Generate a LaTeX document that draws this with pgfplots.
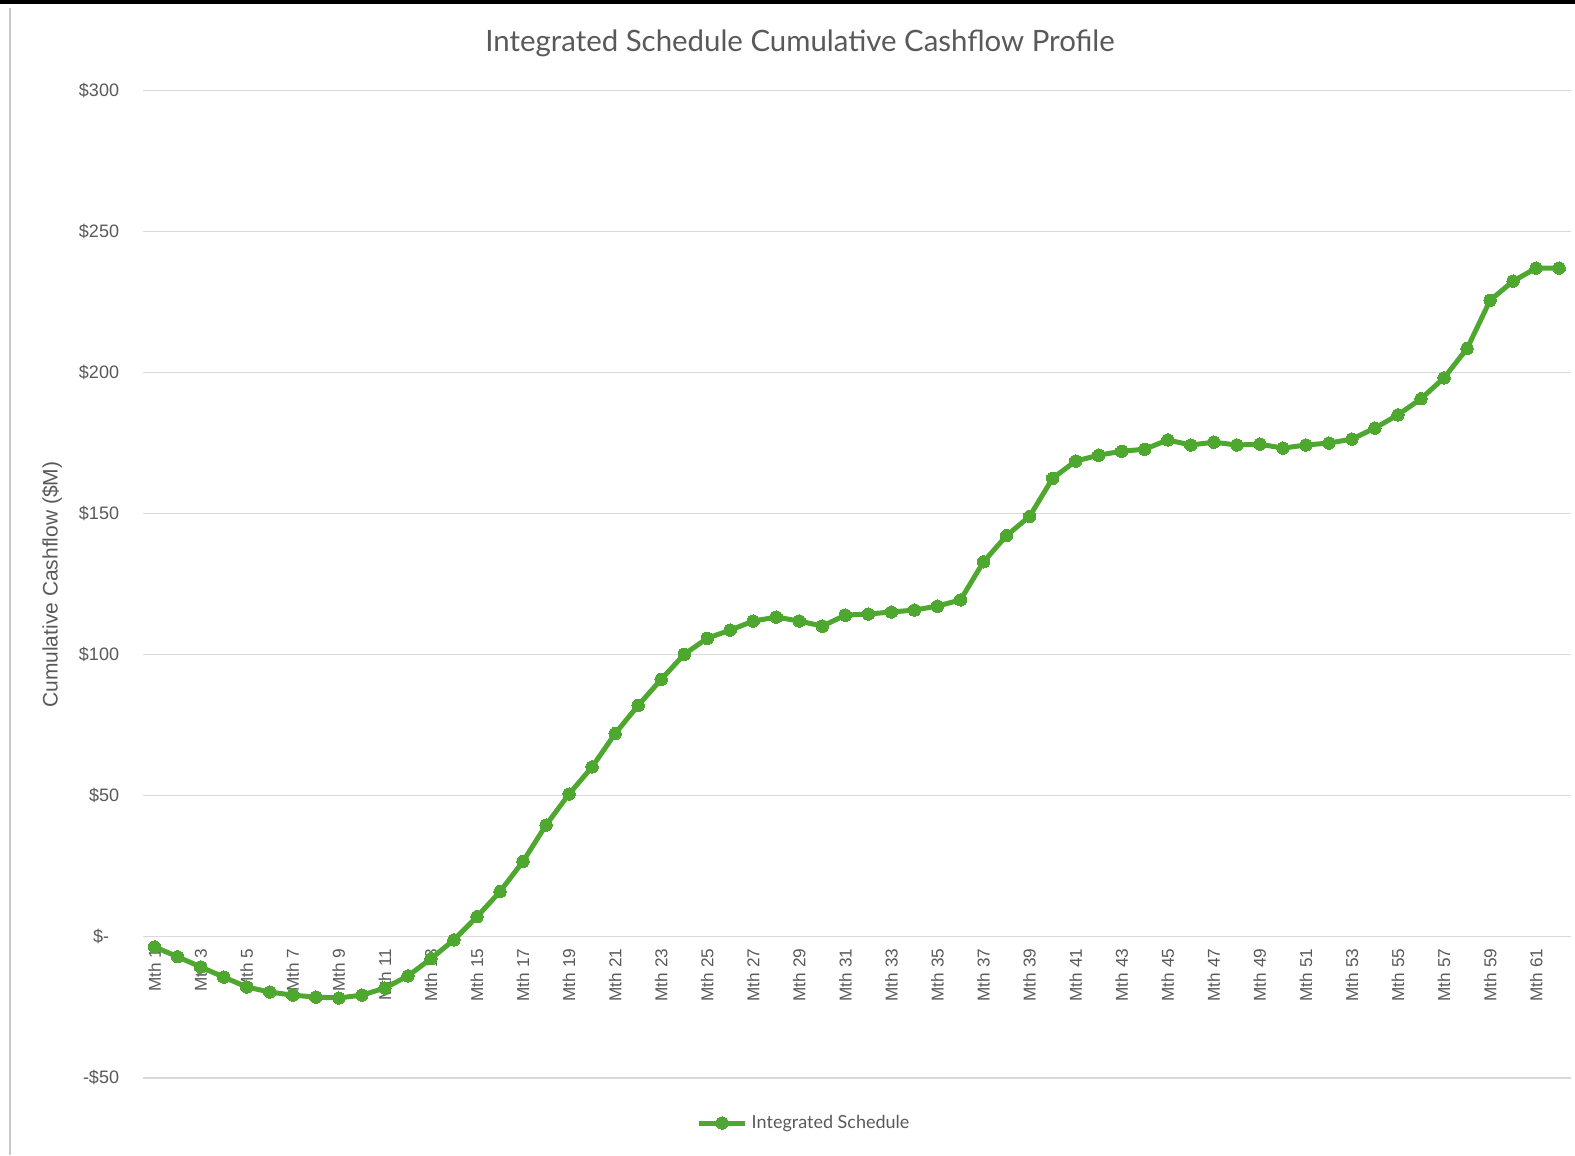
\documentclass[border=0pt]{standalone}
\usepackage{fontspec}
\setmainfont{Liberation Sans}
\newfontfamily\titlefont{Lato}
\usepackage{pgfplots}
\pgfplotsset{compat=1.18}
\definecolor{xlgreen}{HTML}{4EA72E}
\definecolor{txtgray}{HTML}{595959}
\definecolor{gridgray}{HTML}{D9D9D9}

\begin{document}
\begin{tikzpicture}
\begin{axis}[
  at={(0pt,0pt)}, anchor=south west,
  scale only axis, width=713.8pt, height=493.7pt,
  xmin=0.5, xmax=62.5, ymin=-50, ymax=300,
  axis x line=middle, axis y line=left,
  axis line style={draw=none},
  major tick length=0pt,
  ytick={-50,0,50,100,150,200,250,300},
  yticklabels={-\$50,\$-\kern5pt,\$50,\$100,\$150,\$200,\$250,\$300},
  xtick={1,3,...,61},
  xticklabels={Mth 1,Mth 3,Mth 5,Mth 7,Mth 9,Mth 11,Mth 13,Mth 15,Mth 17,Mth 19,
    Mth 21,Mth 23,Mth 25,Mth 27,Mth 29,Mth 31,Mth 33,Mth 35,Mth 37,Mth 39,
    Mth 41,Mth 43,Mth 45,Mth 47,Mth 49,Mth 51,Mth 53,Mth 55,Mth 57,Mth 59,Mth 61},
  yticklabel style={font=\fontsize{9}{10}\selectfont, text=txtgray, anchor=east, xshift=-8.5pt},
  xticklabel style={font=\fontsize{8.6}{9}\selectfont, text=txtgray, yshift=-2.5pt, rotate=90, anchor=east},
  ymajorgrids=true,
  grid style={draw=gridgray, line width=0.75pt},
  legend style={at={(axis description cs:0.4637,-0.0458)}, anchor=center, draw=none, fill=none,
    font=\titlefont\fontsize{9}{10}\selectfont, text=txtgray},
  legend image code/.code={%
    \draw[mark repeat=2, mark phase=2] plot coordinates {(0pt,0pt) (11.5pt,0pt) (23pt,0pt)};},
  clip=false,
]
\addplot[color=xlgreen, line width=2.5pt, mark=*, mark size=3.1pt,
  mark options={fill=xlgreen, draw=xlgreen, line width=0pt}] coordinates {
  (1,-3.6) (2,-7.1) (3,-10.7) (4,-14.3) (5,-17.8) (6,-19.6) (7,-20.7) (8,-21.4)
  (9,-21.7) (10,-20.7) (11,-18.2) (12,-13.9) (13,-7.8) (14,-1.1) (15,7.1) (16,16.0)
  (17,26.7) (18,39.6) (19,50.6) (20,60.2) (21,72.0) (22,82.0) (23,91.2) (24,100.1)
  (25,105.8) (26,108.7) (27,111.9) (28,113.3) (29,111.9) (30,110.1) (31,114.0) (32,114.4)
  (33,115.1) (34,115.8) (35,117.2) (36,119.4) (37,132.9) (38,142.2) (39,149.0) (40,162.5)
  (41,168.6) (42,170.7) (43,172.1) (44,172.8) (45,176.1) (46,174.3) (47,175.3) (48,174.3)
  (49,174.6) (50,173.2) (51,174.3) (52,175.0) (53,176.4) (54,180.3) (55,185.0) (56,190.7)
  (57,198.1) (58,208.5) (59,225.6) (60,232.4) (61,237.0) (62,237.0)
};
\addlegendentry{Integrated Schedule}
\end{axis}
% y axis title
\node[rotate=90, font=\fontsize{10.5}{12}\selectfont, text=txtgray] at (-45.5pt,246.6pt)
  {Cumulative Cashflow (\$M)};
% chart title
\node[font=\titlefont\fontsize{14.7}{17}\selectfont, text=txtgray] at (328.5pt,517.3pt)
  {Integrated Schedule Cumulative Cashflow Profile};
% frame
\fill[black] (-71.55pt,536.9pt) rectangle (715.95pt,538.9pt);
\draw[gridgray!80!gray, line width=0.75pt] (-66.55pt,535pt) -- (-66.55pt,-38.6pt);
\useasboundingbox (-71.55pt,-38.6pt) rectangle (715.95pt,538.9pt);
\end{tikzpicture}
\end{document}
